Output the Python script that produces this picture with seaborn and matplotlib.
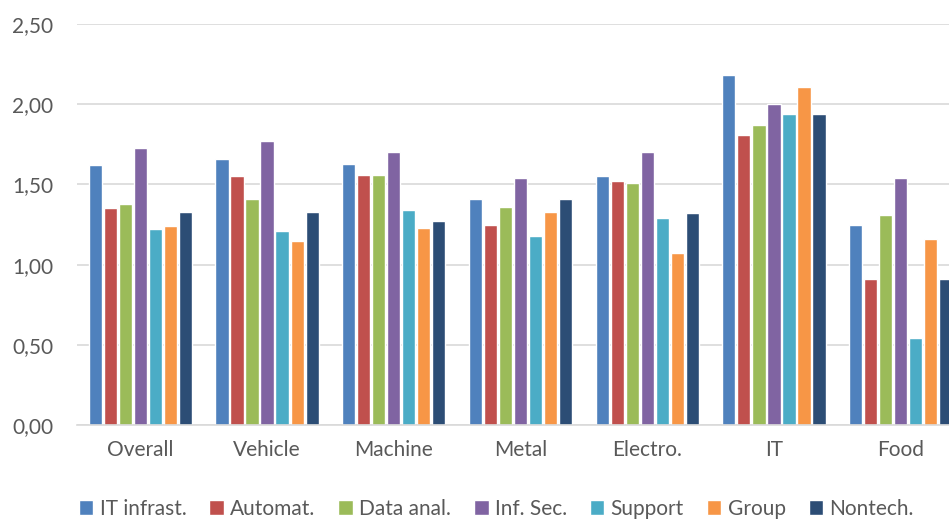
import pandas as pd
import matplotlib.pyplot as plt
import seaborn as sns

# categories and series
categories = ["Overall", "Vehicle", "Machine", "Metal", "Electro.", "IT", "Food"]
series = ["IT infrast.", "Automat.", "Data anal.", "Inf. Sec.", "Support", "Group", "Nontech."]

it_infrast = [1.62, 1.66, 1.63, 1.41, 1.55, 2.18, 1.25]
automat    = [1.35, 1.55, 1.56, 1.25, 1.52, 1.81, 0.91]
data_anal  = [1.38, 1.41, 1.56, 1.36, 1.51, 1.87, 1.31]
inf_sec    = [1.73, 1.77, 1.70, 1.54, 1.70, 2.00, 1.54]
support    = [1.22, 1.21, 1.34, 1.18, 1.29, 1.94, 0.54]
group      = [1.24, 1.15, 1.23, 1.33, 1.07, 2.11, 1.16]
nontech    = [1.33, 1.33, 1.27, 1.41, 1.32, 1.94, 0.91]

colors = ["#4F81BD", "#C0504D", "#9BBB59", "#8064A2", "#4BACC6", "#F79646", "#2C4D75"]

df = pd.DataFrame({
    "Sector": categories,
    "IT infrast.": it_infrast,
    "Automat.": automat,
    "Data anal.": data_anal,
    "Inf. Sec.": inf_sec,
    "Support": support,
    "Group": group,
    "Nontech.": nontech,
})
plot_df = df.melt(id_vars="Sector", value_vars=series, var_name="Series", value_name="Score")

sns.set_style("white")
plt.rcParams["font.family"] = ["Lato", "DejaVu Sans"]

fig = plt.figure(figsize=(9.49, 5.21), dpi=100)
ax = fig.add_axes([77 / 949, 96 / 521, 887 / 949, 401 / 521])

sns.barplot(data=plot_df, x="Sector", y="Score", hue="Series",
            palette=dict(zip(series, colors)), width=0.83, gap=0.12,
            saturation=1, ax=ax, legend=True)

ax.set_xlim(-0.5, 6.5)
ax.set_ylim(0, 2.5)
ax.set_yticks([0, 0.5, 1.0, 1.5, 2.0, 2.5])
ax.set_yticklabels([f"{v:.2f}".replace(".", ",") for v in [0, 0.5, 1.0, 1.5, 2.0, 2.5]])
ax.yaxis.grid(True, color="#D9D9D9", linewidth=1.2)
ax.set_axisbelow(True)
for s in ["top", "right", "left"]:
    ax.spines[s].set_visible(False)
ax.spines["bottom"].set_color("#D9D9D9")
ax.spines["bottom"].set_linewidth(1.2)
ax.tick_params(axis="y", length=0, pad=17, labelsize=15, labelcolor="#595959")
ax.tick_params(axis="x", length=0, pad=11, labelsize=15, labelcolor="#595959")
ax.set_xlabel("")
ax.set_ylabel("")

handles, labels = ax.get_legend_handles_labels()
ax.get_legend().remove()
fig.legend(handles, labels, loc="center", bbox_to_anchor=(0.523, 12 / 521), ncol=7,
           frameon=False, fontsize=15, labelcolor="#595959",
           handlelength=0.7, handleheight=0.7, handletextpad=0.3, columnspacing=1.1)

fig.savefig("out.png", dpi=100)
